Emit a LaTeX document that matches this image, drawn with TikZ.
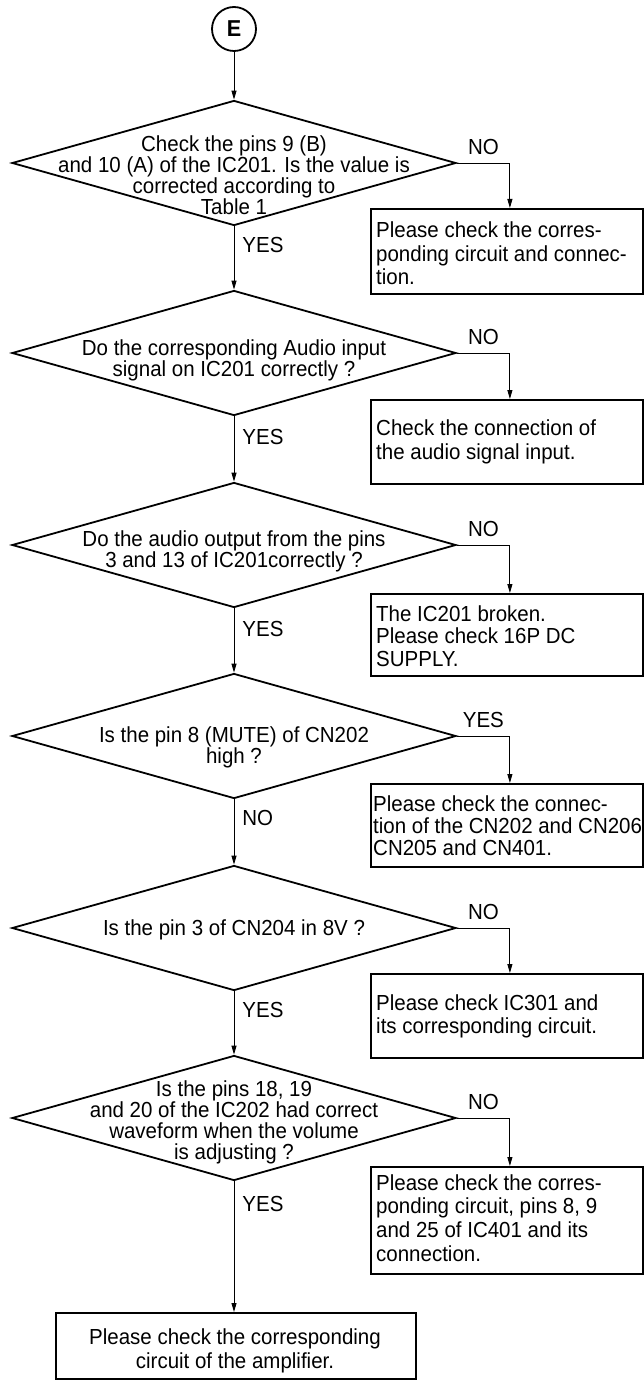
\documentclass[tikz,border=0pt]{standalone}
\usepackage{fontspec}
\setmainfont{Liberation Sans}[FakeStretch=0.94]
\usetikzlibrary{shapes.geometric,arrows.meta}
\begin{document}
\begin{tikzpicture}[x=1pt,y=-1pt,
  dia/.style={diamond, draw, line width=1.8pt, inner sep=0pt, minimum width=444pt, minimum height=125pt},
  box/.style={rectangle, draw, line width=1.8pt, inner sep=0pt, anchor=north west},
  dtxt/.style={inner sep=0pt, font=\fontsize{21.8}{21}\selectfont, align=center},
  btxt/.style={inner sep=0pt, font=\fontsize{21.8}{23.3}\selectfont, align=left, anchor=north west},
  arr/.style={line width=0.9pt, -{Triangle[length=9pt,width=5pt]}},
  lab/.style={inner sep=0pt, font=\fontsize{21.8}{21}\selectfont},
  nolab/.style={lab, above=7.5pt, pos=0.25},
  downlab/.style={lab, right=8pt},
]
\useasboundingbox (0,0) rectangle (644,1380);

% start
\node[circle, draw, line width=1.8pt, minimum size=44pt, inner sep=0pt, font=\bfseries\fontsize{23}{23}\selectfont] (E) at (234,29) {E};

% decisions
\node[dia] (d1) at (234,163) {};
\node[dia] (d2) at (234,353) {};
\node[dia] (d3) at (234,545) {};
\node[dia] (d4) at (234,736) {};
\node[dia] (d5) at (234,928) {};
\node[dia] (d6) at (234,1118) {};

\node[dtxt] (t1) at (234,175) {Check the pins 9 (B)\\and 10 (A) of the IC201. Is the value is\\corrected according to\\Table 1};
\node[dtxt] (t2) at (234,360) {Do the corresponding Audio input\\signal on IC201 correctly ?};
\node[dtxt] (t3) at (234,551) {Do the audio output from the pins\\3 and 13 of IC201correctly ?};
\node[dtxt] (t4) at (234,747) {Is the pin 8 (MUTE) of CN202\\high ?};
\node[dtxt] (t5) at (234,930) {Is the pin 3 of CN204 in 8V ?};
\node[dtxt] (t6) at (234,1122) {Is the pins 18, 19\\and 20 of the IC202 had correct\\waveform when the volume\\is adjusting ?};

% result boxes
\node[box, minimum width=272pt, minimum height=85pt] (b1) at (370,208) {};
\node[box, minimum width=272pt, minimum height=84pt] (b2) at (370,399) {};
\node[box, minimum width=272pt, minimum height=82pt] (b3) at (370,593) {};
\node[box, minimum width=272pt, minimum height=83pt] (b4) at (370,783) {};
\node[box, minimum width=272pt, minimum height=84pt] (b5) at (370,973) {};
\node[box, minimum width=272pt, minimum height=107pt] (b6) at (370,1166) {};
\node[box, minimum width=360pt, minimum height=66pt] (bf) at (55,1312) {};

\node[btxt] (s1) at (376,222) {Please check the corres-\\ponding circuit and connec-\\tion.};
\node[btxt] (s2) at (376,420) {Check the connection of\\the audio signal input.};
\node[btxt, font=\fontsize{21.8}{22.5}\selectfont] (s3) at (376,605) {The IC201 broken.\\Please check 16P DC\\SUPPLY.};
\node[btxt, font=\fontsize{21.8}{22.3}\selectfont] (s4) at (373,795) {Please check the connec-\\tion of the CN202 and CN206\\CN205 and CN401.};
\node[btxt] (s5) at (376,994) {Please check IC301 and\\its corresponding circuit.};
\node[btxt, font=\fontsize{21.8}{23.7}\selectfont] (s6) at (376,1174) {Please check the corres-\\ponding circuit, pins 8, 9\\and 25 of IC401 and its\\connection.};
\node[dtxt, font=\fontsize{21.8}{24}\selectfont] (sf) at (235,1351) {Please check the corresponding\\circuit of the amplifier.};

% main flow
\draw[arr] (E.south) -- (d1.north);
\draw[arr] (d1.south) -- (d2.north) node[downlab, pos=0.30] {YES};
\draw[arr] (d2.south) -- (d3.north) node[downlab, pos=0.32] {YES};
\draw[arr] (d3.south) -- (d4.north) node[downlab, pos=0.32] {YES};
\draw[arr] (d4.south) -- (d5.north) node[downlab, pos=0.29] {NO};
\draw[arr] (d5.south) -- (d6.north) node[downlab, pos=0.29] {YES};
\draw[arr] (d6.south) -- (bf.north -| d6.south) node[downlab, pos=0.17] {YES};

% side branches
\draw[arr] (d1.east) -| ([xshift=3pt]b1.north) node[nolab] {NO};
\draw[arr] (d2.east) -| ([xshift=3pt]b2.north) node[nolab] {NO};
\draw[arr] (d3.east) -| ([xshift=3pt]b3.north) node[nolab] {NO};
\draw[arr] (d4.east) -| ([xshift=3pt]b4.north) node[nolab] {YES};
\draw[arr] (d5.east) -| ([xshift=3pt]b5.north) node[nolab] {NO};
\draw[arr] (d6.east) -| ([xshift=3pt]b6.north) node[nolab] {NO};
\end{tikzpicture}
\end{document}
